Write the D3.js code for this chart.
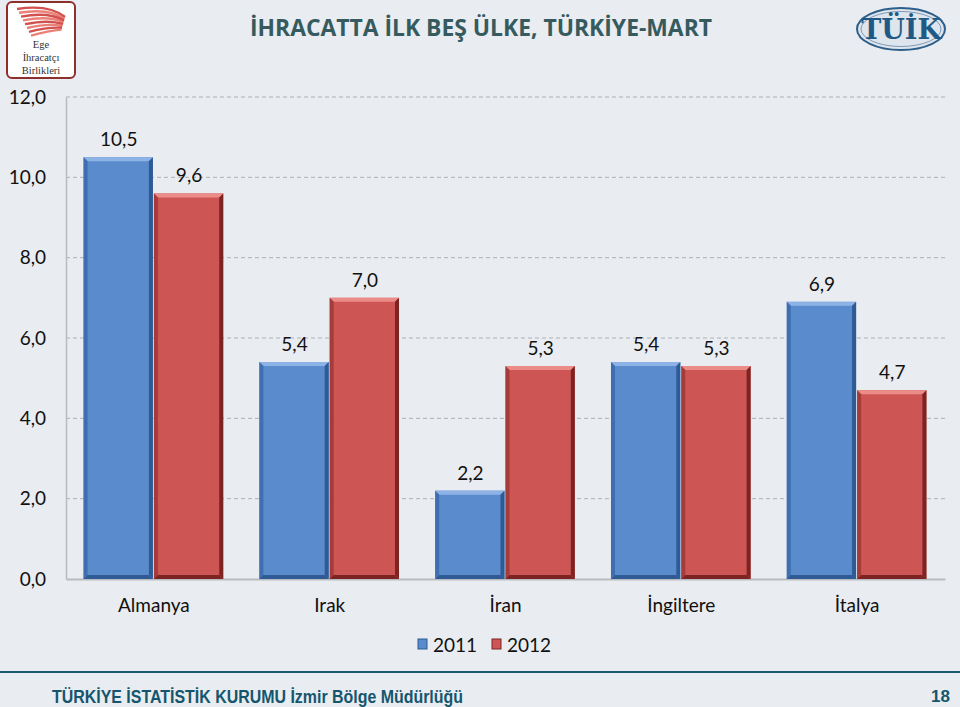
<!DOCTYPE html>
<html><head><meta charset="utf-8">
<script src="https://cdn.jsdelivr.net/npm/d3@7"></script>
<style>
html,body{margin:0;padding:0;background:#e9ecf0;}
svg{display:block;}
</style></head>
<body>
<svg id="c" width="960" height="707"></svg>
<script>
const categories = ["Almanya","Irak","İran","İngiltere","İtalya"];
const seriesNames = ["2011","2012"];
const values2011 = [10.5, 5.4, 2.2, 5.4, 6.9];
const values2012 = [9.6, 7.0, 5.3, 5.3, 4.7];
const yTicks = [0,2,4,6,8,10,12];
const title = "İHRACATTA İLK BEŞ ÜLKE, TÜRKİYE-MART";
const footer = "TÜRKİYE İSTATİSTİK KURUMU İzmir Bölge Müdürlüğü";
const pageNo = "18";

const svg = d3.select("#c");
const W = 960, H = 707;
const m = {left:66, right:15, top:97, bottom:128};
const x0 = d3.scaleBand().domain(categories).range([m.left, W - m.right]).paddingInner(0.2).paddingOuter(0.1);
const x1 = d3.scaleBand().domain(seriesNames).range([0, x0.bandwidth()]).padding(0);
const y = d3.scaleLinear().domain([0,12]).range([H - m.bottom, m.top]);

svg.append("rect").attr("width",W).attr("height",H).attr("fill","#e9ecf0");

svg.append("g").selectAll("line").data(yTicks.filter(d=>d>0)).join("line")
  .attr("x1", m.left).attr("x2", W - m.right)
  .attr("y1", d=>y(d)).attr("y2", d=>y(d))
  .attr("stroke","#adb0b4").attr("stroke-width",1).attr("stroke-dasharray","4,3");

const yAxis = d3.axisLeft(y).tickValues(yTicks).tickSize(0).tickPadding(20)
  .tickFormat(d => d3.format(".1f")(d).replace(".",","));
const gy = svg.append("g").attr("transform",`translate(${m.left},0)`).call(yAxis);
gy.select(".domain").attr("stroke","#b8bbbf").attr("stroke-width",1.5);
gy.selectAll("text").attr("font-family","Lato, 'Open Sans', sans-serif").attr("font-size",19).attr("fill","#111");

const xAxis = d3.axisBottom(x0).tickSize(0).tickPadding(20);
const gx = svg.append("g").attr("transform",`translate(0,${y(0)})`).call(xAxis);
gx.select(".domain").attr("stroke","#b8bbbf").attr("stroke-width",2);
gx.selectAll("text").attr("font-family","Lato, 'Open Sans', sans-serif").attr("font-size",19).attr("fill","#111");

const colors = {"2011":{base:"#5a8bcc",light:"#8db3e6",dark:"#2f5a94",side:"#3f6faf"},
                "2012":{base:"#cd5654",light:"#ec8c89",dark:"#7d2423",side:"#a63c3a"}};

const data = [];
categories.forEach((c,i)=>{
  data.push({cat:c, s:"2011", v:values2011[i]});
  data.push({cat:c, s:"2012", v:values2012[i]});
});

const bw = x1.bandwidth();
const bev = 4;
const bars = svg.append("g").selectAll("g").data(data).join("g")
  .attr("transform", d=>`translate(${x0(d.cat)+x1(d.s)},0)`);

bars.append("rect").attr("x",0).attr("y",d=>y(d.v)).attr("width",bw-1)
  .attr("height",d=>y(0)-y(d.v)).attr("fill",d=>colors[d.s].base);
bars.append("polygon").attr("points", d=>{
  const t=y(d.v), w=bw-1;
  return `0,${t} ${w},${t} ${w-bev},${t+bev} ${bev},${t+bev}`;
}).attr("fill",d=>colors[d.s].light);
bars.append("polygon").attr("points", d=>{
  const t=y(d.v), b=y(0);
  return `0,${t} ${bev},${t+bev} ${bev},${b-bev} 0,${b}`;
}).attr("fill",d=>colors[d.s].side);
bars.append("polygon").attr("points", d=>{
  const t=y(d.v), b=y(0), w=bw-1;
  return `${w},${t} ${w},${b} ${w-bev},${b-bev} ${w-bev},${t+bev}`;
}).attr("fill",d=>colors[d.s].dark);
bars.append("polygon").attr("points", d=>{
  const b=y(0), w=bw-1;
  return `0,${b} ${bev},${b-bev} ${w-bev},${b-bev} ${w},${b}`;
}).attr("fill",d=>colors[d.s].dark);

bars.append("text").attr("x",bw/2).attr("y",d=>y(d.v)-11)
  .attr("text-anchor","middle").attr("font-family","Lato, 'Open Sans', sans-serif")
  .attr("font-size",19).attr("fill","#111")
  .text(d=>d3.format(".1f")(d.v).replace(".",","));

// legend
const leg = svg.append("g").attr("transform","translate(0,645)");
const legX = [418, 492];
seriesNames.forEach((s,i)=>{
  const g = leg.append("g").attr("transform",`translate(${legX[i]},0)`);
  g.append("rect").attr("x",0).attr("y",-6).attr("width",9).attr("height",10).attr("fill",colors[s].base).attr("stroke",colors[s].dark).attr("stroke-width",1);
  g.append("text").attr("x",15).attr("y",0).attr("dy","0.35em")
    .attr("font-family","Lato, 'Open Sans', sans-serif").attr("font-size",19).attr("fill","#111").text(s);
});

// title
svg.append("text").attr("x",481).attr("y",36).attr("text-anchor","middle")
  .attr("font-family","'Open Sans', Lato, sans-serif").attr("font-weight","bold")
  .attr("font-size",22.5).attr("fill","#355b5e")
  .attr("textLength",462).attr("lengthAdjust","spacingAndGlyphs").text(title);

// left logo
const lg = svg.append("g").attr("transform","translate(7,2)");
lg.append("rect").attr("x",0).attr("y",0).attr("width",68).attr("height",76).attr("rx",5)
  .attr("fill","#ffffff").attr("stroke","#8e2f2c").attr("stroke-width",2);
[0,1,2,3,4,5,6,7].forEach(k=>{
  lg.append("path").attr("d",`M ${10+k*2} ${7+k*3.8} Q ${42} ${2+k*3.8} ${58-k*0.5} ${15+k*1.8}`)
    .attr("fill","none").attr("stroke", k%2? "#e86a62":"#c8322e").attr("stroke-width",2.4).attr("opacity",0.85);
});
["Ege","İhracatçı","Birlikleri"].forEach((t,k)=>{
  lg.append("text").attr("x",34).attr("y",46+k*13).attr("text-anchor","middle")
    .attr("font-family","'Liberation Serif', serif").attr("font-size",10.5).attr("fill","#333").text(t);
});

// right logo
const rg = svg.append("g").attr("transform","translate(901,29)");
rg.append("ellipse").attr("rx",44).attr("ry",21).attr("fill","#dfe5ec").attr("stroke","#2e5f8a").attr("stroke-width",2);
rg.append("ellipse").attr("rx",40).attr("ry",17.5).attr("fill","none").attr("stroke","#7e9ab5").attr("stroke-width",1);
rg.append("text").attr("y",10).attr("text-anchor","middle")
  .attr("font-family","'DejaVu Serif', 'Liberation Serif', serif").attr("font-weight","bold")
  .attr("font-size",27).attr("fill","#1f5a86").text("TÜİK");

// footer
svg.append("line").attr("x1",0).attr("x2",W).attr("y1",672).attr("y2",672).attr("stroke","#1d5a6e").attr("stroke-width",2);
svg.append("text").attr("x",52).attr("y",703)
  .attr("font-family","'Liberation Sans', Arial, sans-serif").attr("font-size",18.5).attr("font-weight","bold")
  .attr("fill","#15566f").attr("textLength",411).attr("lengthAdjust","spacingAndGlyphs").text(footer);
svg.append("text").attr("x",950).attr("y",702).attr("text-anchor","end")
  .attr("font-family","'Liberation Sans', Arial, sans-serif").attr("font-weight","bold").attr("font-size",17)
  .attr("fill","#15566f").text(pageNo);
</script>
</body></html>
